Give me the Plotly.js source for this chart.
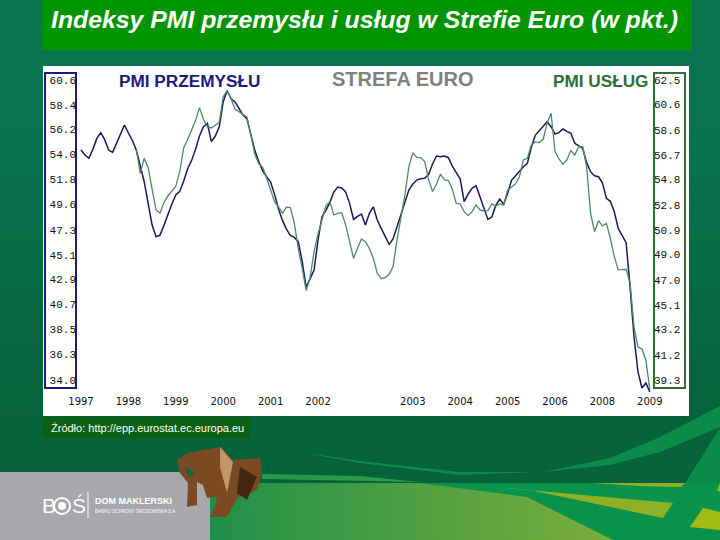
<!DOCTYPE html>
<html><head><meta charset="utf-8">
<script src="https://cdn.plot.ly/plotly-3.0.1.min.js"></script>
<style>
html,body{margin:0;padding:0;width:720px;height:540px;overflow:hidden}
body{background:
 linear-gradient(90deg,#1f9048,#7cae3b) 210px 483px/403px 57px no-repeat,
 linear-gradient(180deg,#0a7350 0,#0a7350 120px,#05623a 420px,#05623a 100%)}
#g{width:720px;height:540px}
</style></head><body><div id="g"></div>
<script>
const titleText = "Indeksy PMI przemysłu i usług w Strefie Euro (w pkt.)";
const sourceText = "Źródło: http://epp.eurostat.ec.europa.eu";
const yearPositions = [0,12,24,36,48,60,84,96,108,120,132,144];
const yearLabels = ["1997","1998","1999","2000","2001","2002","2003","2004","2005","2006","2008","2009"];
const leftTicks = [60.6,58.4,56.2,54.0,51.8,49.6,47.3,45.1,42.9,40.7,38.5,36.3,34.0];
const rightTicks = [62.5,60.6,58.6,56.7,54.8,52.8,50.9,49.0,47.0,45.1,43.2,41.2,39.3];
const pmiPrzemyslu = [54.39,53.95,53.65,54.45,55.42,55.93,55.31,54.39,54.18,55.01,55.69,56.61,55.90,55.25,54.39,53.09,51.58,49.66,47.74,46.70,46.85,47.71,48.71,49.60,50.40,50.72,51.64,52.73,53.47,54.45,55.63,56.46,56.75,55.13,55.63,56.46,58.67,59.65,58.94,58.65,58.08,57.49,57.17,55.81,54.36,53.38,52.53,52.02,51.55,50.46,49.16,48.15,47.38,46.82,46.64,46.26,44.49,42.21,43.04,43.75,46.41,48.48,49.04,49.75,50.66,51.11,51.02,50.66,49.66,48.24,48.51,48.71,
47.74,48.77,49.36,48.18,47.44,46.70,46.02,46.50,47.59,48.77,49.87,50.84,51.37,51.73,51.85,51.88,52.23,53.15,53.86,53.80,53.86,53.71,52.97,52.38,51.82,49.81,50.49,50.99,51.23,50.25,49.22,48.24,48.45,49.48,50.04,49.57,50.55,51.73,52.11,52.56,52.91,53.21,54.63,55.69,56.10,56.46,56.90,56.46,55.81,55.93,56.25,56.04,55.87,54.98,54.74,54.54,53.27,52.47,52.11,52.02,51.49,50.10,49.84,48.92,47.44,46.85,46.17,42.25,37.81,34.71,33.29,33.73,32.93];
const pmiUslug = [57.14,55.28,56.45,55.72,54.05,52.45,52.22,53.02,53.53,53.89,54.28,55.41,57.24,57.89,58.58,59.36,60.36,59.46,58.89,58.79,59.00,59.23,61.21,61.68,61.06,60.23,60.05,59.85,59.62,58.25,56.75,56.03,55.75,54.90,54.07,53.09,52.68,52.19,52.66,52.63,51.42,49.48,47.94,46.21,47.24,49.23,50.59,51.73,52.76,53.09,52.06,52.19,52.24,51.29,50.00,48.71,49.48,50.21,
50.00,49.48,48.71,47.55,47.14,47.22,47.47,48.07,50.13,51.80,53.61,55.80,56.88,56.52,56.50,56.19,54.77,53.87,54.46,55.23,54.77,54.72,54.05,52.96,52.91,52.32,52.01,52.32,52.84,52.45,52.37,52.40,52.91,52.76,52.91,52.81,53.99,54.23,54.46,55.03,56.32,56.45,57.48,57.71,57.66,57.91,59.15,59.93,56.96,56.39,55.98,56.32,57.04,56.70,57.35,57.35,55.80,52.19,50.77,51.62,51.21,51.42,50.26,48.84,47.81,47.83,47.86,46.80,43.40,41.85,41.70,40.85,38.53];

const W=720,H=540;
const px=x=>x/W, py=y=>1-y/H;
function poly(pts,color){
  const d=pts.map((p,i)=>(i?'L':'M')+px(p[0]).toFixed(4)+' '+py(p[1]).toFixed(4)).join(' ')+' Z';
  return {type:'path',xref:'paper',yref:'paper',path:d,fillcolor:color,line:{width:0},layer:'below'};
}
function rect(x0,y0,x1,y1,fill,line,lw){
  return {type:'rect',xref:'paper',yref:'paper',x0:px(x0),x1:px(x1),y0:py(y1),y1:py(y0),
    fillcolor:fill||'rgba(0,0,0,0)',line:line?{color:line,width:lw||1}:{width:0},layer:'below'};
}
function label(x,y,text,size,color,extra){
  return Object.assign({xref:'paper',yref:'paper',x:px(x),y:py(y),text:text,showarrow:false,xanchor:'left',yanchor:'middle',
    font:{family:'"Liberation Sans",Arial,sans-serif',size:size,color:color},borderpad:0},extra||{});
}
const shapes=[
  rect(42,0,692,50,'#009400'),
  rect(43,66,689,416,'#ffffff'),
  rect(43,417,250,438,'#0a5f12'),
  // lower decorative sweep
  poly([[420,483],[720,483],[720,540],[613,540],[527,497]],'#0b934c'),
  poly([[450,483],[673,503],[663,518],[530,490]],'#8fb024'),
  poly([[593,483],[685,483],[681,487],[640,486]],'#8fb024'),
  poly([[703,508],[720,512],[720,530],[690,527]],'#a2bb14'),
  poly([[717,490],[720,483],[720,492]],'#a2bb14'),
  poly([[685,483],[720,428],[720,483]],'#0b8c4c'),
  poly([[543,472],[610,458],[660,437],[720,406],[720,427],[660,452],[610,465]],'#0b8c4c'),
  poly([[300,452],[360,461],[460,472],[537,472],[460,475],[360,463]],'#0b8c4c'),
  poly([[262,474],[360,476],[420,482],[262,479]],'#2a9a4a'),
  rect(0,472,210,540,'#a7a7ac'),
  // bull
  poly([[177,460],[187,453],[220,447],[233,460],[260,458],[262,473],[257,490],[237,498],[227,517],[210,517],[217,500],[215,497],[207,498],[203,485],[197,482],[197,505],[187,507],[188,483],[180,473]],'#7b4a22'),
  poly([[220,447],[233,462],[227,493],[220,467]],'#c19668'),
  poly([[240,467],[257,477],[247,500],[237,493]],'#43280f'),
  poly([[187,467],[195,474],[190,477],[185,470]],'#0a6a40'),
  // logo
  {type:'circle',xref:'paper',yref:'paper',x0:px(54),x1:px(70),y0:py(514),y1:py(498),line:{color:'#ffffff',width:2},fillcolor:'rgba(0,0,0,0)',layer:'below'},
  {type:'circle',xref:'paper',yref:'paper',x0:px(58),x1:px(66),y0:py(510),y1:py(502),line:{width:0},fillcolor:'#ffffff',layer:'below'},
  rect(87.5,492,88.5,518,'#ffffff'),
  // value-scale frames
  rect(45,73,76,388,null,'#1b1b78',2),
  rect(654,73,685,388,null,'#2f6e34',2)
];
const annotations=[
  label(50,20,'<b><i>'+titleText+'</i></b>',24.8,'#ffffff'),
  label(118,81,'<b>PMI PRZEMYSŁU</b>',17.2,'#1b1b78'),
  label(331,79,'<b>STREFA EURO</b>',20,'#808080'),
  label(552,81,'<b>PMI USŁUG</b>',17.2,'#2f6e34'),
  label(50,428,sourceText,11,'#ffffff'),
  label(41,505,'B',21,'#ffffff'),
  label(71,505,'Ś',21,'#ffffff'),
  label(94,501,'<b>DOM MAKLERSKI</b>',9,'#ffffff'),
  label(94,510,'BANKU OCHRONY ŚRODOWISKA S.A.',4.5,'#ffffff')
];
const traces=[
 {type:'scatter',mode:'lines',name:'PMI przemysłu',y:pmiPrzemyslu,x0:0,dx:1,yaxis:'y',line:{color:'#1a1a5e',width:1.5},hoverinfo:'skip'},
 {type:'scatter',mode:'lines',name:'PMI usług',y:pmiUslug,x0:14,dx:1,yaxis:'y2',line:{color:'#4d8a62',width:1.3},hoverinfo:'skip'}
];
const domY=[py(396),py(73)];
const tickFont={family:'"Liberation Mono",monospace',size:11,color:'#111111'};
const layout={
 width:W,height:H,margin:{l:0,r:0,t:0,b:0,pad:0},showlegend:false,
 paper_bgcolor:'rgba(0,0,0,0)',plot_bgcolor:'rgba(0,0,0,0)',
 xaxis:{domain:[px(77),px(653)],range:[-1.01,144.8],tickmode:'array',tickvals:yearPositions,ticktext:yearLabels,
   showgrid:false,zeroline:false,showline:false,ticks:'',tickangle:0,automargin:false,ticklabelstandoff:-2,
   tickfont:{family:'"DejaVu Sans",sans-serif',size:10,color:'#111111'}},
 yaxis:{domain:domY,range:[32.58,61.22],tickmode:'array',tickvals:leftTicks,ticktext:leftTicks.map(v=>v.toFixed(1)),
   showgrid:false,zeroline:false,showline:false,ticks:'',automargin:false,tickfont:tickFont},
 yaxis2:{domain:domY,range:[38.06,63.04],overlaying:'y',side:'right',anchor:'x',tickmode:'array',tickvals:rightTicks,ticktext:rightTicks.map(v=>v.toFixed(1)),
   showgrid:false,zeroline:false,showline:false,ticks:'',automargin:false,tickfont:tickFont},
 shapes:shapes,annotations:annotations
};
Plotly.newPlot('g',traces,layout,{displayModeBar:false,staticPlot:true});
</script></body></html>
